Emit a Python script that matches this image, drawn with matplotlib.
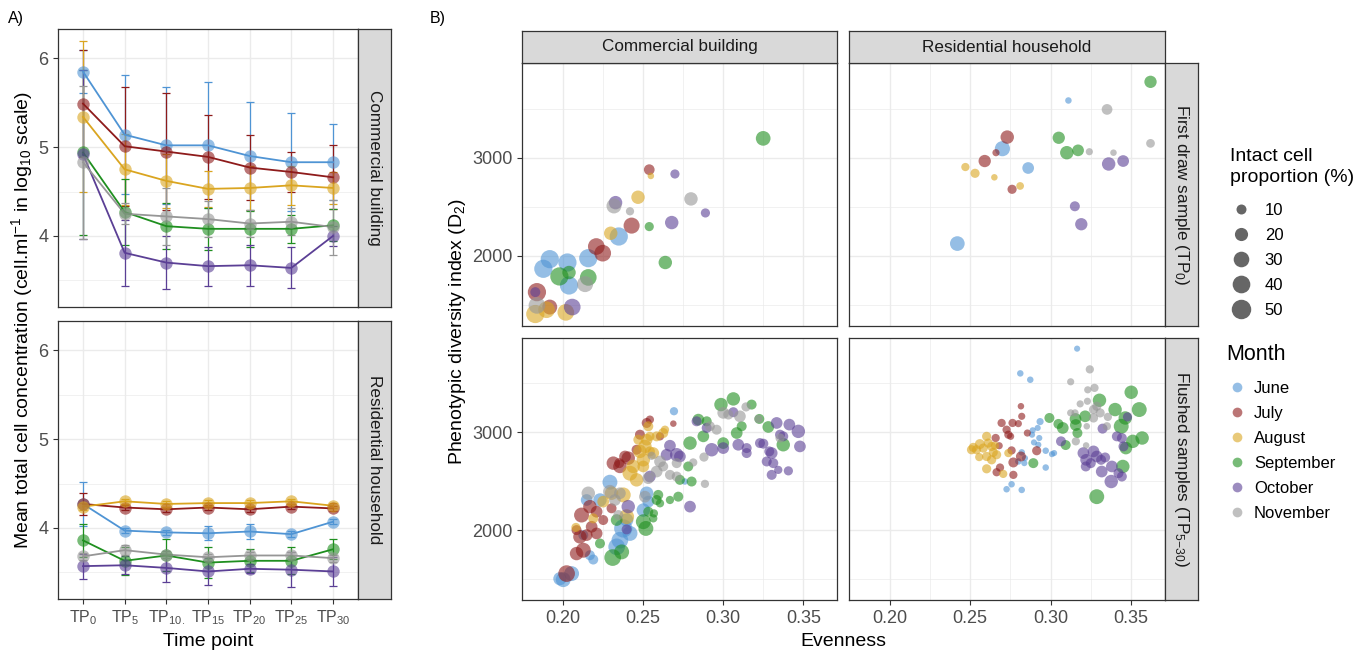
import numpy as np
import pandas as pd
import matplotlib
matplotlib.use("Agg")
from matplotlib import pyplot as plt
from matplotlib.lines import Line2D

plt.rcParams['font.family'] = ['Liberation Sans', 'DejaVu Sans']
plt.rcParams['mathtext.default'] = 'regular'

months = ['Jun', 'Jul', 'Aug', 'Sep', 'Oct', 'Nov']
month_labels = ['June', 'July', 'August', 'September', 'October', 'November']
colors = ['#4F94D4', '#8E1B1B', '#DAA520', '#1F8F1F', '#5B3F95', '#969696']
time_labels = ['TP$_0$', 'TP$_5$', 'TP$_{10.}$', 'TP$_{15}$', 'TP$_{20}$', 'TP$_{25}$', 'TP$_{30}$']

# panel A: mean log10 total cell concentration and sd per time point
comm_mean = [[5.85, 5.14, 5.02, 5.02, 4.90, 4.83, 4.83],
             [5.49, 5.01, 4.95, 4.89, 4.77, 4.72, 4.66],
             [5.34, 4.75, 4.62, 4.53, 4.54, 4.57, 4.54],
             [4.94, 4.27, 4.11, 4.08, 4.08, 4.08, 4.12],
             [4.92, 3.81, 3.70, 3.66, 3.67, 3.64, 4.00],
             [4.83, 4.25, 4.22, 4.19, 4.14, 4.16, 4.10]]
comm_sd = [[0.24, 0.67, 0.66, 0.71, 0.61, 0.55, 0.43],
           [0.60, 0.67, 0.66, 0.47, 0.37, 0.23, 0.36],
           [0.85, 0.40, 0.30, 0.20, 0.25, 0.22, 0.18],
           [0.93, 0.37, 0.26, 0.24, 0.20, 0.16, 0.18],
           [0.95, 0.37, 0.30, 0.22, 0.23, 0.23, 0.11],
           [0.86, 0.12, 0.32, 0.20, 0.15, 0.15, 0.31]]
res_mean = [[4.27, 3.97, 3.95, 3.94, 3.96, 3.93, 4.07],
            [4.27, 4.23, 4.21, 4.23, 4.21, 4.24, 4.22],
            [4.24, 4.30, 4.27, 4.28, 4.28, 4.30, 4.25],
            [3.86, 3.63, 3.69, 3.61, 3.63, 3.63, 3.76],
            [3.57, 3.58, 3.55, 3.51, 3.54, 3.53, 3.51],
            [3.68, 3.75, 3.70, 3.67, 3.69, 3.69, 3.66]]
res_sd = [[0.25, 0.03, 0.03, 0.08, 0.08, 0.03, 0.03],
          [0.12, 0.03, 0.03, 0.03, 0.03, 0.03, 0.03],
          [0.04, 0.03, 0.03, 0.03, 0.03, 0.03, 0.03],
          [0.19, 0.16, 0.18, 0.17, 0.13, 0.15, 0.11],
          [0.14, 0.10, 0.16, 0.15, 0.05, 0.20, 0.16],
          [0.04, 0.06, 0.04, 0.04, 0.04, 0.04, 0.04]]

# panel B: (evenness, D2, intact cell %) per month
cb_first = {
    'Jun': [(0.235, 2197, 43), (0.192, 1966, 43), (0.188, 1868, 43), (0.203, 1932, 43), (0.216, 1976, 43), (0.204, 1698, 43)],
    'Jul': [(0.254, 2878, 12), (0.243, 2308, 32), (0.221, 2095, 35), (0.225, 2027, 35), (0.184, 1630, 43), (0.192, 1478, 27)],
    'Aug': [(0.255, 2814, 3), (0.247, 2597, 21), (0.230, 2230, 21), (0.190, 1451, 35), (0.183, 1407, 43), (0.202, 1424, 35)],
    'Sep': [(0.325, 3197, 26), (0.254, 2298, 8), (0.264, 1932, 21), (0.198, 1790, 43), (0.204, 1830, 21), (0.216, 1780, 35)],
    'Oct': [(0.270, 2834, 8), (0.233, 2542, 21), (0.289, 2437, 8), (0.268, 2339, 21), (0.183, 1630, 10), (0.206, 1478, 35)],
    'Nov': [(0.232, 2508, 27), (0.242, 2454, 6), (0.280, 2580, 21), (0.214, 1712, 32), (0.184, 1495, 35)],
}
rh_first = {
    'Jun': [(0.311, 3583, 3), (0.270, 3092, 28), (0.286, 2895, 15), (0.242, 2125, 26)],
    'Jul': [(0.273, 3210, 21), (0.266, 3051, 4), (0.259, 2966, 17), (0.276, 2678, 8)],
    'Aug': [(0.247, 2905, 6), (0.253, 2841, 8), (0.265, 2800, 3), (0.281, 2712, 5)],
    'Sep': [(0.362, 3773, 17), (0.305, 3203, 17), (0.310, 3051, 21), (0.317, 3075, 15)],
    'Oct': [(0.336, 2936, 21), (0.345, 2966, 15), (0.315, 2505, 10), (0.319, 2322, 17)],
    'Nov': [(0.335, 3492, 12), (0.362, 3146, 7), (0.324, 3061, 4), (0.339, 3051, 3)],
}
cb_flush = {
    'Jun': [(0.2004, 1493, 27), (0.2056, 1555, 27), (0.1983, 1503, 20), (0.2191, 1699, 10), (0.2170, 1743, 10),
            (0.2337, 1829, 35), (0.2357, 1897, 35), (0.2378, 2017, 43), (0.2399, 2103, 21), (0.2295, 2490, 27),
            (0.2233, 2308, 21), (0.2524, 2377, 21), (0.2503, 2205, 21), (0.2534, 2291, 15), (0.2694, 3216, 6),
            (0.2762, 2497, 3), (0.2150, 2308, 15), (0.2129, 1949, 10), (0.2420, 1966, 27)],
    'Jul': [(0.2025, 1555, 35), (0.2087, 1760, 21), (0.2129, 1794, 27), (0.2108, 1931, 21), (0.2150, 1949, 15),
            (0.2181, 2034, 15), (0.2212, 1966, 15), (0.2118, 2154, 27), (0.2170, 2240, 21), (0.2212, 2188, 15),
            (0.2253, 2103, 10), (0.2087, 2000, 10), (0.2316, 2685, 21), (0.2357, 2651, 21), (0.2409, 2736, 21),
            (0.2389, 2753, 15), (0.2353, 2685, 10), (0.2482, 2976, 10), (0.2544, 3130, 6), (0.2524, 3096, 10),
            (0.2607, 2959, 6), (0.2690, 3089, 3), (0.2305, 2223, 10), (0.2461, 2822, 10)],
    'Aug': [(0.2083, 2027, 8), (0.2191, 2120, 10), (0.2253, 2291, 15), (0.2305, 2377, 21), (0.2378, 2360, 27),
            (0.2399, 2137, 27), (0.2420, 2582, 27), (0.2461, 2514, 21), (0.2482, 2805, 21), (0.2513, 2856, 21),
            (0.2524, 2925, 15), (0.2503, 2719, 21), (0.2544, 2805, 10), (0.2534, 3062, 10), (0.2586, 2959, 10),
            (0.2627, 2993, 10), (0.2638, 3027, 6), (0.2440, 2651, 21), (0.2503, 2651, 15), (0.2565, 2788, 15),
            (0.2472, 2925, 10), (0.2544, 2959, 8)],
    'Sep': [(0.2312, 1719, 35), (0.2368, 1777, 27), (0.2233, 1863, 10), (0.2519, 2017, 27), (0.2503, 2086, 27),
            (0.2534, 2188, 10), (0.2565, 2120, 6), (0.2569, 2171, 6), (0.2586, 2308, 10), (0.2596, 2360, 10),
            (0.2607, 2274, 6), (0.2669, 2308, 6), (0.2721, 2342, 10), (0.2731, 2514, 10), (0.2804, 2497, 10),
            (0.2783, 2651, 10), (0.2794, 2890, 21), (0.2877, 2959, 15), (0.2846, 3130, 15), (0.2898, 3113, 10),
            (0.2987, 3284, 21), (0.3064, 3342, 21), (0.3178, 3284, 10), (0.3001, 2890, 15), (0.3085, 2993, 15),
            (0.3116, 3062, 10), (0.3226, 3137, 10), (0.3282, 3055, 15), (0.3375, 2873, 21), (0.2337, 2103, 15)],
    'Oct': [(0.2399, 2007, 10), (0.2409, 2240, 21), (0.2794, 2240, 15), (0.2669, 2863, 15), (0.2648, 2771, 15),
            (0.2711, 2771, 21), (0.2731, 2753, 15), (0.2544, 2548, 15), (0.2835, 3113, 10), (0.2898, 3045, 10),
            (0.2929, 2822, 21), (0.3001, 2839, 15), (0.3064, 3206, 10), (0.3095, 2873, 15), (0.3147, 2839, 10),
            (0.3147, 2788, 10), (0.3230, 2890, 10), (0.3251, 2884, 10), (0.3272, 2702, 10), (0.3303, 2788, 15),
            (0.3313, 2685, 10), (0.3303, 2565, 10), (0.3344, 2616, 6), (0.3407, 2606, 8), (0.3334, 3096, 15),
            (0.3413, 3079, 15), (0.3469, 3010, 21), (0.3479, 2856, 15), (0.3355, 2976, 10), (0.3375, 2959, 10),
            (0.3288, 2805, 10)],
    'Nov': [(0.2160, 2377, 21), (0.2326, 2308, 15), (0.2357, 2377, 15), (0.2295, 2394, 21), (0.2347, 2154, 10),
            (0.2555, 2760, 6), (0.2607, 2702, 15), (0.2586, 2599, 15), (0.2534, 2531, 15), (0.2513, 2342, 15),
            (0.2627, 2651, 10), (0.2669, 2565, 10), (0.2711, 2685, 10), (0.2711, 2548, 10), (0.2814, 2692, 6),
            (0.2881, 2747, 8), (0.2887, 2473, 6), (0.2918, 3062, 10), (0.3001, 3199, 15), (0.3033, 3182, 10),
            (0.3105, 3164, 15), (0.3143, 3260, 8), (0.2960, 3027, 10), (0.3220, 3137, 6), (0.3355, 2942, 8)],
}
rh_flush = {
    'Jun': [(0.3164, 3856, 2.5), (0.2811, 3603, 3), (0.2873, 3538, 3), (0.2934, 3110, 4), (0.2919, 3045, 2.5),
            (0.2888, 3021, 2.5), (0.2884, 2976, 2.5), (0.2929, 2942, 2.5), (0.2896, 2897, 2.5), (0.2923, 2873, 2.5),
            (0.2969, 2812, 3), (0.3008, 2777, 2.5), (0.3021, 2788, 2.5), (0.2820, 2795, 3), (0.2840, 2736, 2.5),
            (0.2799, 2702, 3), (0.2836, 2685, 2.5), (0.2969, 2640, 3), (0.2757, 2469, 3), (0.2726, 2418, 3),
            (0.2820, 2411, 3)],
    'Jul': [(0.2815, 3267, 3), (0.2820, 3164, 4), (0.2695, 3096, 6), (0.2763, 3096, 6), (0.2799, 3089, 4),
            (0.2726, 3027, 6), (0.2737, 2976, 6), (0.2751, 2959, 4), (0.2658, 2942, 6), (0.2855, 2993, 4),
            (0.2680, 2863, 4), (0.2757, 2815, 6), (0.2913, 2812, 8), (0.2815, 2753, 10), (0.2768, 2692, 10),
            (0.2768, 2565, 6), (0.2664, 2592, 6), (0.2685, 2640, 6)],
    'Aug': [(0.2519, 2846, 8), (0.2539, 2822, 8), (0.2560, 2880, 10), (0.2602, 2959, 8), (0.2612, 2890, 8),
            (0.2581, 2839, 8), (0.2633, 2856, 8), (0.2643, 2795, 8), (0.2664, 2771, 8), (0.2556, 2747, 6),
            (0.2602, 2753, 8), (0.2633, 2719, 8), (0.2602, 2627, 8), (0.2705, 2575, 6), (0.2737, 2788, 6),
            (0.2508, 2822, 8), (0.2654, 2863, 6)],
    'Sep': [(0.2992, 3147, 10), (0.3048, 3086, 10), (0.3075, 3045, 15), (0.2892, 2685, 10), (0.3093, 2870, 10),
            (0.3154, 3137, 15), (0.3156, 3075, 15), (0.3166, 2993, 10), (0.3214, 3164, 15), (0.3303, 3328, 21),
            (0.3400, 3233, 21), (0.3463, 3147, 21), (0.3500, 3410, 21), (0.3550, 3233, 27), (0.3438, 3062, 27),
            (0.3510, 2908, 21), (0.3568, 2942, 21), (0.3467, 2839, 18), (0.3448, 2651, 21), (0.3286, 2342, 27)],
    'Oct': [(0.3064, 2908, 10), (0.3322, 3038, 10), (0.3203, 2788, 15), (0.3220, 2719, 15), (0.3266, 2805, 15),
            (0.3286, 2753, 15), (0.3313, 2719, 10), (0.3338, 2743, 10), (0.3218, 2651, 10), (0.3249, 2685, 10),
            (0.3317, 2599, 15), (0.3380, 2651, 15), (0.3376, 2497, 21), (0.3411, 2959, 10), (0.3442, 2942, 10),
            (0.3452, 2856, 10), (0.3421, 2582, 10), (0.3442, 2548, 10), (0.3477, 3158, 8)],
    'Nov': [(0.3243, 3644, 6), (0.3124, 3517, 4), (0.3230, 3435, 4), (0.3272, 3455, 6), (0.3183, 3291, 4),
            (0.3228, 3318, 4), (0.3286, 3267, 8), (0.3266, 3233, 8), (0.3124, 3199, 4), (0.3151, 3199, 4),
            (0.3307, 3199, 8), (0.3266, 3147, 8), (0.3355, 3158, 6), (0.3224, 3062, 3), (0.3156, 2908, 6),
            (0.3220, 2866, 3), (0.3349, 3062, 6)],
}
size_breaks = [10, 20, 30, 40, 50]

W, H = 1356, 653
fig = plt.figure(figsize=(W / 100, H / 100), dpi=100)


def px_axes(l, t, r, b):
    return fig.add_axes([l / W, 1 - b / H, (r - l) / W, (b - t) / H])


def diam(p):
    # marker diameter in points for an intact cell proportion
    return 0.72 * (2.3 + 2.43 * np.sqrt(np.asarray(p, dtype=float)))


def style(ax):
    for s in ax.spines.values():
        s.set_color('#333333')
        s.set_linewidth(0.9)
    ax.grid(which='major', color='#EBEBEB', lw=1.0)
    ax.grid(which='minor', color='#EBEBEB', lw=0.5)
    ax.set_axisbelow(True)
    ax.tick_params(which='major', colors='#333333', labelcolor='#4D4D4D',
                   labelsize=13, length=3.5, width=0.8)
    ax.tick_params(which='minor', length=0)


def strip(rect, text, rot):
    sa = px_axes(*rect)
    sa.set_facecolor('#D9D9D9')
    for s in sa.spines.values():
        s.set_color('#333333')
        s.set_linewidth(0.9)
    sa.set_xticks([])
    sa.set_yticks([])
    sa.text(0.5, 0.5, text, rotation=rot, ha='center', va='center',
            fontsize=12.3, color='#1A1A1A', transform=sa.transAxes)


# ---- panel A ----
xpos = np.arange(len(time_labels))
for k, (means, sds, rect, name) in enumerate([
        (comm_mean, comm_sd, (58, 29, 358, 307), 'Commercial building'),
        (res_mean, res_sd, (58, 321, 358, 599), 'Residential household')]):
    ax = px_axes(*rect)
    style(ax)
    for m, c in zip(range(6), colors):
        ax.errorbar(xpos, means[m], yerr=sds[m], fmt='none', ecolor=c,
                    elinewidth=0.9, capsize=3, capthick=0.9, zorder=2)
    for m, c in zip(range(6), colors):
        ax.plot(xpos, means[m], color=c, lw=1.3, zorder=3)
    for m, c in zip(range(6), colors):
        ax.scatter(xpos, means[m], s=80, color=c, alpha=0.6, lw=0, zorder=4)
    ax.set_xlim(-0.6, 6.6)
    ax.set_ylim(3.2, 6.33)
    ax.set_yticks([4, 5, 6])
    ax.set_yticks([3.5, 4.5, 5.5], minor=True)
    ax.set_xticks(xpos)
    if k == 0:
        ax.tick_params(axis='x', length=0, labelbottom=False)
    else:
        ax.set_xticklabels(time_labels)
        ax.tick_params(axis='x', labelsize=11.5)
    strip((rect[2], rect[1], rect[2] + 33, rect[3]), name, -90)

fig.text(8 / W, 1 - 19 / H, 'A)', fontsize=11.5, ha='left', va='center')
fig.text(22 / W, 1 - 320 / H, 'Mean total cell concentration (cell.ml$^{-1}$ in log$_{10}$ scale)',
         rotation=90, ha='center', va='center', fontsize=14)
fig.text(208 / W, 1 - 641 / H, 'Time point', ha='center', va='center', fontsize=14)

# ---- panel B ----
cols = [(522, 837, 'Commercial building'), (849, 1165, 'Residential household')]
rows = [(63, 326, 'First draw sample (TP$_0$)'), (338, 600, 'Flushed samples (TP$_{5{-}30}$)')]
tables = [[cb_first, rh_first], [cb_flush, rh_flush]]
for i, (t, b, rname) in enumerate(rows):
    for j, (l, r, cname) in enumerate(cols):
        ax = px_axes(l, t, r, b)
        style(ax)
        data = tables[i][j]
        frame = pd.DataFrame([(m, e, d, p) for m in months for (e, d, p) in data[m]],
                             columns=['month', 'evenness', 'd2', 'intact'])
        for m, c in zip(months, colors):
            sub = frame[frame.month == m]
            ax.scatter(sub.evenness, sub.d2, s=diam(sub.intact) ** 2, color=c,
                       alpha=0.6, lw=0, zorder=3)
        ax.set_xlim(0.1747, 0.371)
        ax.set_ylim(1285, 3965)
        ax.set_xticks([0.20, 0.25, 0.30, 0.35])
        ax.set_xticklabels(['0.20', '0.25', '0.30', '0.35'])
        ax.set_xticks([0.175, 0.225, 0.275, 0.325], minor=True)
        ax.set_yticks([2000, 3000])
        ax.set_yticks([1500, 2500, 3500], minor=True)
        if i == 0:
            ax.tick_params(axis='x', length=0, labelbottom=False)
        if j == 1:
            ax.tick_params(axis='y', length=0, labelleft=False)
        if i == 0:
            strip((l, 31, r, 63), cname, 0)
        if j == 1:
            strip((1165, t, 1198, b), rname, -90)

fig.text(430 / W, 1 - 19 / H, 'B)', fontsize=11.5, ha='left', va='center')
fig.text(457 / W, 1 - 331 / H, 'Phenotypic diversity index (D$_2$)',
         rotation=90, ha='center', va='center', fontsize=14)
fig.text(843 / W, 1 - 641 / H, 'Evenness', ha='center', va='center', fontsize=14)

# ---- legends ----
fig.text(1230 / W, 1 - 148 / H, 'Intact cell\nproportion (%)', ha='left', va='top',
         fontsize=14, linespacing=1.3)
size_handles = [Line2D([], [], ls='none', marker='o', markersize=diam(v), color='black',
                       alpha=0.6, markeredgewidth=0) for v in size_breaks]
fig.legend(size_handles, [str(v) for v in size_breaks],
           loc='upper left', bbox_to_anchor=(1228 / W, 1 - 203 / H), frameon=False,
           fontsize=12, labelspacing=0.6, handlelength=1.6, handletextpad=0.6,
           borderpad=0, borderaxespad=0)

fig.text(1226 / W, 1 - 354 / H, 'Month', ha='left', va='center', fontsize=15.5)
month_handles = [Line2D([], [], ls='none', marker='o', markersize=7, color=c, alpha=0.6,
                        markeredgewidth=0) for c in colors]
fig.legend(month_handles, month_labels,
           loc='upper left', bbox_to_anchor=(1229 / W, 1 - 381 / H), frameon=False,
           fontsize=12, labelspacing=0.6, handlelength=1.0, handletextpad=0.5,
           borderpad=0, borderaxespad=0)

fig.savefig('out.png', dpi=100)
